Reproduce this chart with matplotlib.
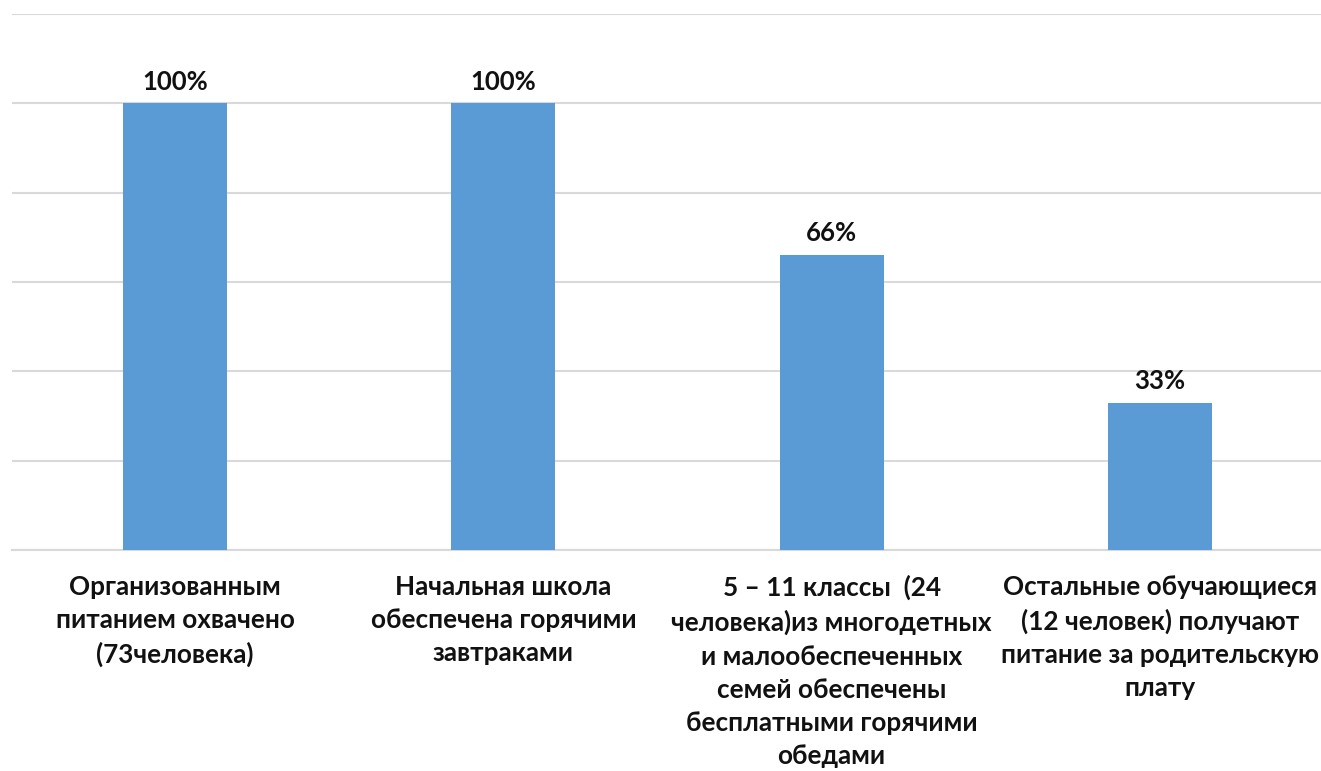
import matplotlib
matplotlib.use("Agg")
import matplotlib.pyplot as plt

categories = [
    "Организованным\nпитанием охвачено\n(73человека)",
    "Начальная школа\nобеспечена горячими\nзавтраками",
    "5 – 11 классы  (24\nчеловека)из многодетных\nи малообеспеченных\nсемей обеспечены\nбесплатными горячими\nобедами",
    "Остальные обучающиеся\n(12 человек) получают\nпитание за родительскую\nплату",
]
values = [100, 100, 66, 33]
value_labels = ["100%", "100%", "66%", "33%"]

plt.rcParams['font.family'] = ['Lato', 'DejaVu Sans']

fig = plt.figure(figsize=(13.21, 7.71), dpi=100)
ax = fig.add_axes([12 / 1321, 221 / 771, 1309 / 1321, 536 / 771])

x = range(len(values))
bars = ax.bar(x, values, width=0.317, color='#5b9bd5', zorder=3)

for b, lab in zip(bars, value_labels):
    ax.annotate(lab, (b.get_x() + b.get_width() / 2, b.get_height()),
                xytext=(0, 7), textcoords='offset points',
                ha='center', va='bottom', fontsize=18.5, fontweight='bold',
                color='#111111')

ax.set_xlim(-0.497, 3.491)
ax.set_ylim(0, 120)
ax.set_yticks(range(0, 121, 20))
ax.yaxis.grid(True, color='#d9d9d9', linewidth=1.5, zorder=0)
ax.tick_params(axis='y', left=False, labelleft=False)
ax.tick_params(axis='x', length=0, pad=18)
ax.set_xticks(list(x))
ax.set_xticklabels(categories, fontsize=18.8, fontweight='bold',
                   color='#111111', linespacing=1.46, va='top')
for s in ['top', 'right', 'left']:
    ax.spines[s].set_visible(False)
ax.spines['bottom'].set_color('#d9d9d9')
ax.spines['bottom'].set_linewidth(1.5)

fig.savefig('out.png', dpi=100)
